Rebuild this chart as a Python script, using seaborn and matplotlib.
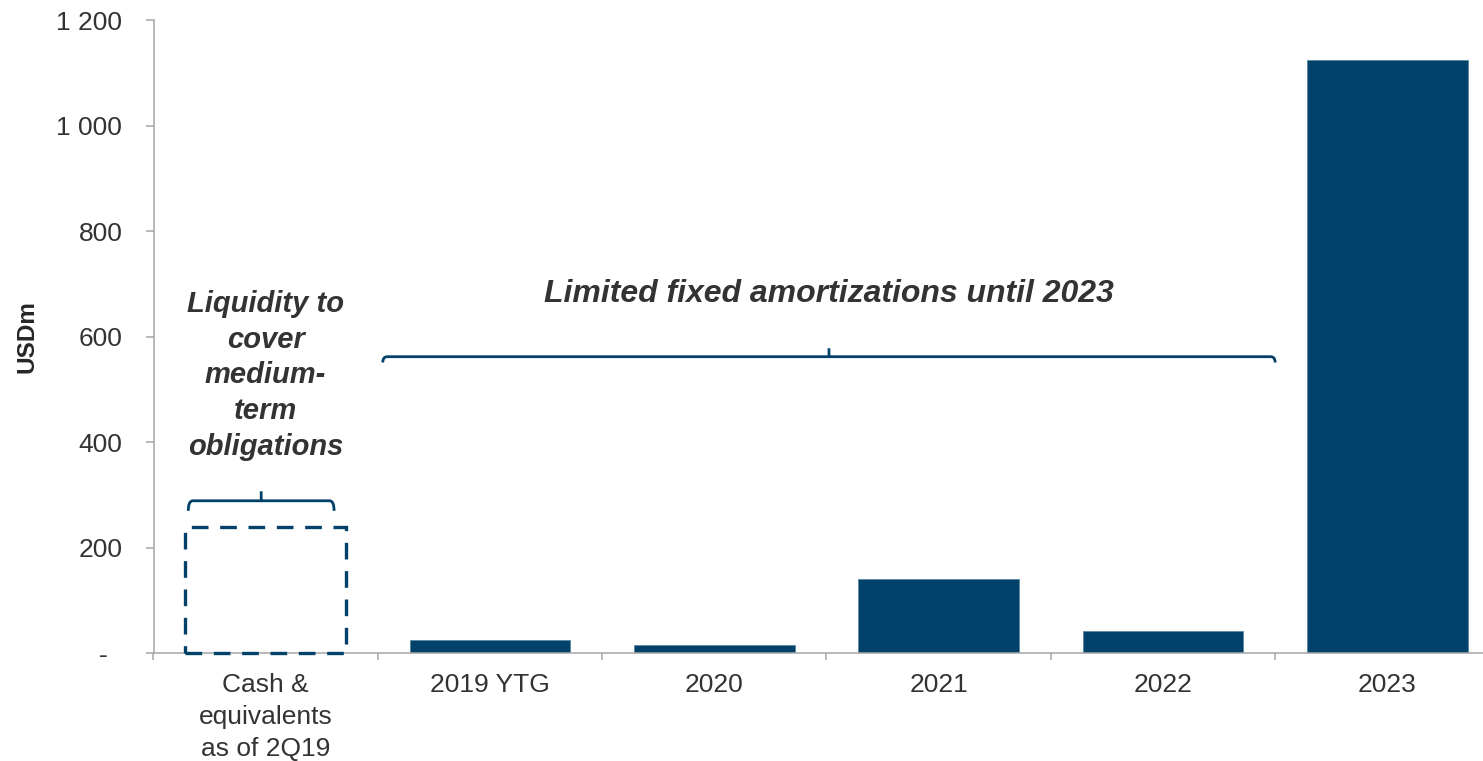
import matplotlib
matplotlib.use("Agg")
import matplotlib.pyplot as plt
from matplotlib.path import Path
from matplotlib.patches import PathPatch
from matplotlib.ticker import FixedLocator
import seaborn as sns

# ---- data ----
categories = ["Cash &\nequivalents\nas of 2Q19", "2019 YTG", "2020", "2021", "2022", "2023"]
values = [240, 25, 16, 141, 43, 1125]
y_ticks = [0, 200, 400, 600, 800, 1000, 1200]
y_tick_labels = ["-  ", "200", "400", "600", "800", "1 000", "1 200"]
y_label = "USDm"
note_left = "Liquidity to\ncover\nmedium-\nterm\nobligations"
note_right = "Limited fixed amortizations until 2023"

BAR = "#02416A"
GRAY = "#A6A6A6"
TXT = "#333333"

sns.set_theme(style="white")
plt.rcParams["font.family"] = ["Liberation Sans", "DejaVu Sans"]

fig = plt.figure(figsize=(14.83, 7.61), dpi=100)
ax = fig.add_axes([153.5 / 1483, 1 - 653.3 / 761, 1346 / 1483, 633.3 / 761])

sns.barplot(x=categories, y=values, color=BAR, saturation=1, width=0.715,
            edgecolor="#5C86A3", linewidth=0.6, ax=ax)

# first bar: dashed outline only
cash = ax.patches[0]
cash.set_facecolor("none")
cash.set_edgecolor(BAR)
cash.set_linewidth(2.4)
cash.set_linestyle((0, (5, 3.5)))
cash.set_zorder(4)
cash.set_clip_on(False)

ax.set_xlim(-0.5, len(categories) - 0.5)
ax.set_ylim(0, 1200)
ax.set_yticks(y_ticks)
ax.set_yticklabels(y_tick_labels)
ax.xaxis.set_minor_locator(FixedLocator([i - 0.5 for i in range(len(categories) + 1)]))

for side in ["top", "right"]:
    ax.spines[side].set_visible(False)
for side in ["left", "bottom"]:
    ax.spines[side].set_color(GRAY)
    ax.spines[side].set_linewidth(1.1)

ax.tick_params(axis="y", which="major", left=True, length=5.5, width=1.1, color=GRAY,
               pad=17, labelsize=19, labelcolor=TXT)
ax.tick_params(axis="x", which="major", bottom=True, length=0, pad=14.5, labelsize=19, labelcolor=TXT)
ax.tick_params(axis="x", which="minor", bottom=True, length=5.3, width=1.1, color=GRAY)
for lab in ax.get_xticklabels():
    lab.set_linespacing(1.4)

ax.set_xlabel("")
ax.set_ylabel(y_label, fontsize=17.5, fontweight="bold", color="#262626")
ax.yaxis.set_label_coords(-0.0854, 0.5)


def brace(x0, x1, y, depth, notch, lw=2.0):
    xm = (x0 + x1) / 2
    r = 0.02
    verts = [(x0, y - depth), (x0, y), (x0 + r, y), (xm, y), (xm, y + notch), (xm, y),
             (x1 - r, y), (x1, y), (x1, y - depth)]
    codes = [Path.MOVETO, Path.CURVE3, Path.CURVE3, Path.LINETO, Path.LINETO, Path.MOVETO,
             Path.LINETO, Path.CURVE3, Path.CURVE3]
    ax.add_patch(PathPatch(Path(verts, codes), fill=False, edgecolor=BAR, lw=lw,
                           capstyle="butt", joinstyle="round", zorder=5, clip_on=False))


brace(0.522, 4.5, 562, 11, 16)
brace(-0.345, 0.305, 289, 19, 18)

ax.text(2.51, 665, note_right, ha="center", va="baseline", fontsize=23,
        fontweight="bold", fontstyle="italic", color=TXT)
ax.text(0.0, 376, note_left, ha="center", va="baseline", fontsize=21,
        fontweight="bold", fontstyle="italic", color=TXT, linespacing=1.35)

fig.savefig("out.png", dpi=100)
